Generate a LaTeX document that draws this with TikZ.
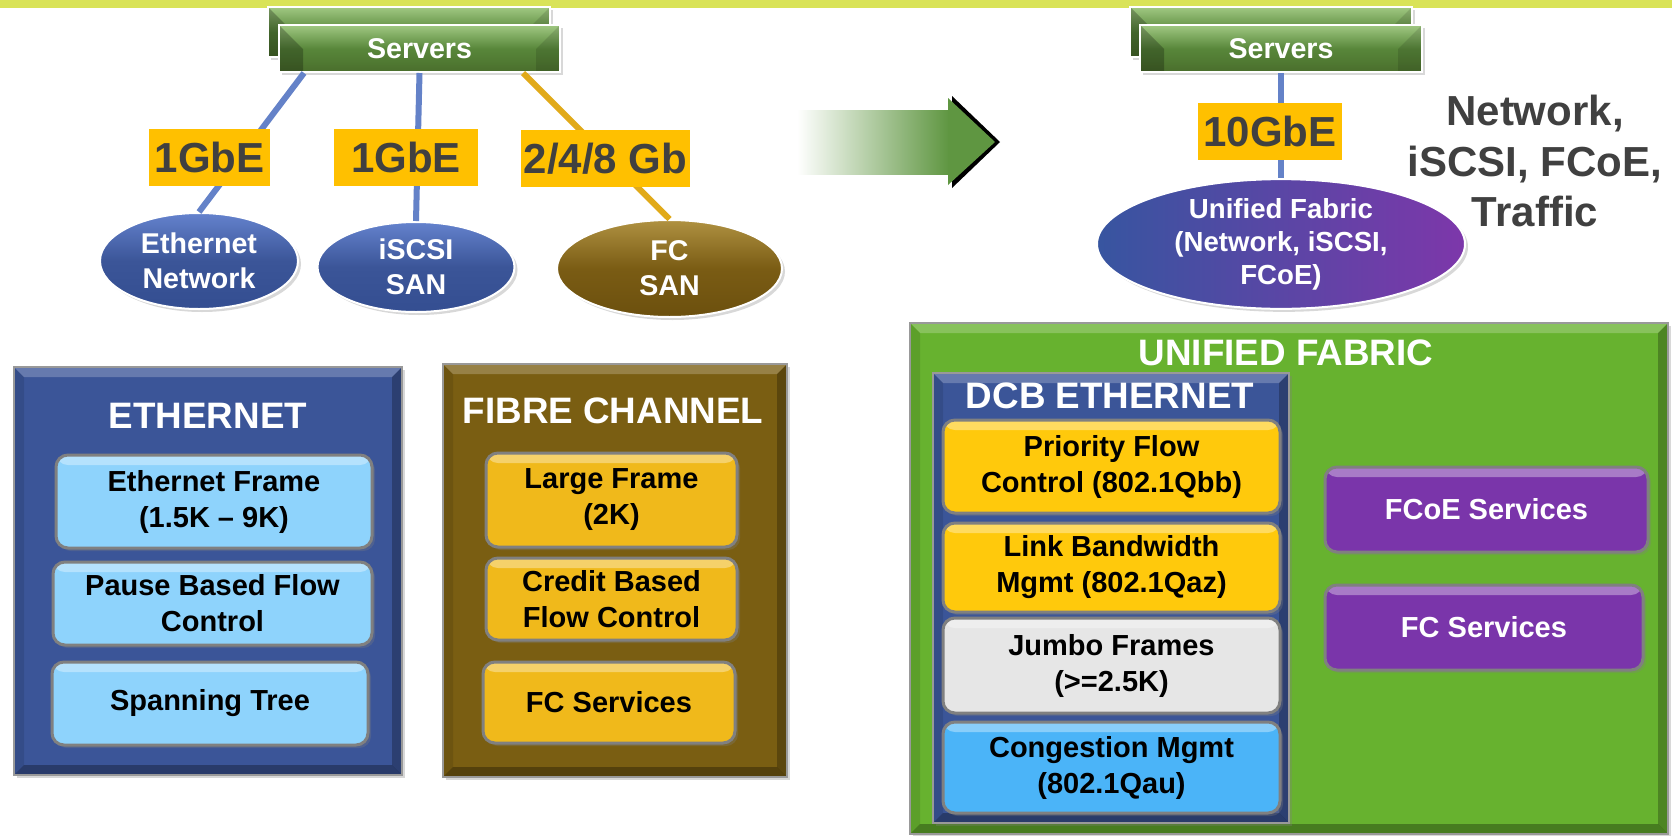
\documentclass[tikz,border=0pt]{standalone}
\usepackage{fontspec}
\setmainfont{Liberation Sans}
\usetikzlibrary{shadows,shapes.geometric}

\definecolor{bandc}{RGB}{217,227,88}
\definecolor{srvTop}{RGB}{160,200,130}
\definecolor{srvMid}{RGB}{88,135,58}
\definecolor{srvBot}{RGB}{74,110,44}
\definecolor{ethc}{RGB}{59,85,152}
\definecolor{ellLight}{RGB}{100,130,205}
\definecolor{ellDark}{RGB}{52,78,145}
\definecolor{fcLight}{RGB}{175,145,65}
\definecolor{fcMid}{RGB}{122,92,20}
\definecolor{fcDark}{RGB}{108,80,14}
\definecolor{ufLeft}{RGB}{55,85,160}
\definecolor{ufRight}{RGB}{125,55,170}
\definecolor{fcpc}{RGB}{122,94,18}
\definecolor{ufc}{RGB}{103,178,47}
\definecolor{lbluebox}{RGB}{142,211,252}
\definecolor{goldbox}{RGB}{240,185,27}
\definecolor{goldtwo}{RGB}{255,201,12}
\definecolor{graybox}{RGB}{230,230,230}
\definecolor{bluebox}{RGB}{75,180,248}
\definecolor{purplebox}{RGB}{122,53,170}
\definecolor{boxedge}{RGB}{128,128,128}
\definecolor{lnblue}{RGB}{100,130,200}
\definecolor{lngold}{RGB}{225,170,25}
\definecolor{lblc}{RGB}{255,192,0}
\definecolor{dgray}{RGB}{64,64,64}
\definecolor{arrowg}{RGB}{95,150,65}

\begin{document}
\begin{tikzpicture}[x=0.5pt,y=-0.5pt,
  sh/.style={drop shadow={opacity=0.3,shadow xshift=1.5pt,shadow yshift=-1.5pt}},
  srv/.style={rectangle, draw=white, line width=1pt, inner sep=0pt, sh,
    top color=srvTop, bottom color=srvBot, middle color=srvMid,
    text=white, font={\bfseries\fontsize{14.3}{17}\selectfont},
    path picture={
      \fill[black,opacity=.25] (path picture bounding box.north west) -- ([shift={(12pt,-12pt)}]path picture bounding box.north west) -- ([shift={(12pt,0pt)}]path picture bounding box.south west) -- (path picture bounding box.south west) -- cycle;
      \fill[black,opacity=.12] (path picture bounding box.north east) -- ([shift={(-12pt,-12pt)}]path picture bounding box.north east) -- ([shift={(-12pt,0pt)}]path picture bounding box.south east) -- (path picture bounding box.south east) -- cycle;
    }},
  lbl/.style={rectangle, fill=lblc, text=dgray, inner sep=0pt,
    font={\bfseries\fontsize{21}{25}\selectfont}},
  ell/.style={ellipse, draw=white, line width=1pt, inner sep=0pt, sh,
    text=white, align=center, font={\bfseries\fontsize{14.3}{17.5}\selectfont}},
  panel/.style={rectangle, fill=#1, draw=boxedge!80, line width=0.8pt, inner sep=0pt, sh,
    path picture={
      \fill[white,opacity=.22] (path picture bounding box.north west) -- (path picture bounding box.north east) -- ([shift={(-5pt,-5pt)}]path picture bounding box.north east) -- ([shift={(5pt,-5pt)}]path picture bounding box.north west) -- cycle;
      \fill[black,opacity=.25] (path picture bounding box.north east) -- (path picture bounding box.south east) -- ([shift={(-5pt,5pt)}]path picture bounding box.south east) -- ([shift={(-5pt,-5pt)}]path picture bounding box.north east) -- cycle;
      \fill[black,opacity=.3] (path picture bounding box.south east) -- (path picture bounding box.south west) -- ([shift={(5pt,5pt)}]path picture bounding box.south west) -- ([shift={(-5pt,5pt)}]path picture bounding box.south east) -- cycle;
      \fill[black,opacity=.1] (path picture bounding box.south west) -- (path picture bounding box.north west) -- ([shift={(5pt,-5pt)}]path picture bounding box.north west) -- ([shift={(5pt,5pt)}]path picture bounding box.south west) -- cycle;
    }},
  heading/.style={text=white, inner sep=0pt, font={\bfseries\fontsize{18.4}{22}\selectfont}},
  ibox/.style={rectangle, rounded corners=6pt, fill=#1, draw=boxedge, line width=1.5pt,
    inner sep=0pt, align=center, sh, font={\bfseries\fontsize{14.5}{18}\selectfont},
    path picture={
      \fill[white,opacity=.35] ([yshift=1pt]path picture bounding box.north west) rectangle ([yshift=-5pt]path picture bounding box.north east);
    }},
  bigtxt/.style={text=dgray, inner sep=0pt, font={\bfseries\fontsize{21}{25}\selectfont}},
  lineb/.style={draw=lnblue, line width=3pt},
  lineg/.style={draw=lngold, line width=3pt}
]
\useasboundingbox (0,0) rectangle (1672,836);
\fill[white] (0,0) rectangle (1672,836);
% top band
\fill[bandc] (0,0) rectangle (1672,8);

% ---------- left top ----------
\node[srv, minimum width=141pt, minimum height=25pt] (srvLb) at (409,32) {};
\node[srv, minimum width=140.5pt, minimum height=23.5pt] (srvL) at (419.5,48.5) {Servers};

\node[ell, top color=ellLight, bottom color=ellDark, middle color=ethc, minimum width=99pt, minimum height=48pt] (eth) at (199,261) {Ethernet\\Network};
\node[ell, top color=ellLight, bottom color=ellDark, middle color=ethc, minimum width=98.5pt, minimum height=45pt] (iscsi) at (416,267) {iSCSI\\SAN};
\node[ell, top color=fcLight, bottom color=fcDark, middle color=fcMid, minimum width=112.5pt, minimum height=48.5pt] (fc) at (669.5,268.5) {FC\\SAN};

\draw[lineb] ([xshift=13pt]srvL.south west) -- (eth.north);
\draw[lineb] (srvL.south) -- (iscsi.north);
\draw[lineg] ([xshift=-19pt]srvL.south east) -- (fc.north);

\node[lbl, minimum width=60.5pt, minimum height=28.5pt] (l1) at (209.5,157.5) {1GbE};
\node[lbl, minimum width=72pt, minimum height=28.5pt] (l2) at (406,157.5) {1GbE};
\node[lbl, minimum width=84.5pt, minimum height=28.5pt] (l3) at (605.5,158.5) {2/4/8 Gb};

% ---------- arrow ----------
\fill[left color=white, right color=arrowg] (797,110) rectangle (949,174);
\fill[black] (952,96) -- (1000,142) -- (952,188) -- cycle;
\fill[arrowg] (948,98) -- (995,142) -- (948,185) -- cycle;

% ---------- right top ----------
\node[srv, minimum width=141pt, minimum height=25pt] (srvRb) at (1271,32) {};
\node[srv, minimum width=141pt, minimum height=23.5pt] (srvR) at (1281,48.5) {Servers};
\node[ell, left color=ufLeft, right color=ufRight, minimum width=184pt, minimum height=64pt,
  font={\bfseries\fontsize{13.8}{16.5}\selectfont}] (uf) at (1281,244) {Unified Fabric\\(Network, iSCSI,\\FCoE)};
\draw[lineb] (srvR.south) -- (uf.north);
\node[lbl, minimum width=72pt, minimum height=28.5pt] (l4) at (1270,131.5) {10GbE};

\node[bigtxt, anchor=base] (t1) at (1535,125) {Network,};
\node[bigtxt, anchor=base] (t2) at (1535,176) {iSCSI, FCoE,};
\node[bigtxt, anchor=base] (t3) at (1535,226) {Traffic};

% ---------- Ethernet panel ----------
\node[panel=ethc, minimum width=194pt, minimum height=204pt] (ethP) at (208,571) {};
\node[heading, anchor=base] (ethT) at (208,428) {ETHERNET};
\node[ibox=lbluebox, minimum width=158pt, minimum height=46.5pt] (e1) at (214,501.5) {Ethernet Frame\\(1.5K – 9K)};
\node[ibox=lbluebox, minimum width=159.5pt, minimum height=41.5pt] (e2) at (212.5,603.5) {Pause Based Flow\\Control};
\node[ibox=lbluebox, minimum width=158pt, minimum height=41.5pt] (e3) at (210,703.5) {Spanning Tree};

% ---------- Fibre channel panel ----------
\node[panel=fcpc, minimum width=172pt, minimum height=206.5pt] (fcP) at (615,570.5) {};
\node[heading, anchor=base] (fcT) at (613,423) {FIBRE CHANNEL};
\node[ibox=goldbox, minimum width=125.5pt, minimum height=47pt] (f1) at (611.5,500) {Large Frame\\(2K)};
\node[ibox=goldbox, minimum width=125.5pt, minimum height=41pt] (f2) at (611.5,599) {Credit Based\\Flow Control};
\node[ibox=goldbox, minimum width=126pt, minimum height=40.5pt] (f3) at (609,702.5) {FC Services};

% ---------- Unified fabric panel ----------
\node[panel=ufc, minimum width=379pt, minimum height=255.5pt] (ufP) at (1289,578.5) {};
\node[heading, anchor=base] (ufT) at (1286,365) {UNIFIED FABRIC};
\node[panel=ethc, minimum width=178pt, minimum height=225pt] (dcbP) at (1111,598) {};
\node[heading, anchor=base] (dcbT) at (1110,408) {DCB ETHERNET};
\node[ibox=goldtwo, minimum width=168.5pt, minimum height=46.5pt] (d1) at (1111.5,466.5) {Priority Flow\\Control (802.1Qbb)};
\node[ibox=goldtwo, minimum width=168.5pt, minimum height=44.5pt] (d2) at (1111.5,567.5) {Link Bandwidth\\Mgmt (802.1Qaz)};
\node[ibox=graybox, minimum width=168.5pt, minimum height=47.5pt] (d3) at (1111.5,665.5) {Jumbo Frames\\(>=2.5K)};
\node[ibox=bluebox, minimum width=168.5pt, minimum height=45.5pt] (d4) at (1111.5,767.5) {Congestion Mgmt\\(802.1Qau)};
\node[ibox=purplebox, text=white, minimum width=161.5pt, minimum height=42.5pt] (p1) at (1486.5,509.5) {FCoE Services};
\node[ibox=purplebox, text=white, minimum width=159pt, minimum height=42.5pt] (p2) at (1484,627.5) {FC Services};
\end{tikzpicture}
\end{document}
